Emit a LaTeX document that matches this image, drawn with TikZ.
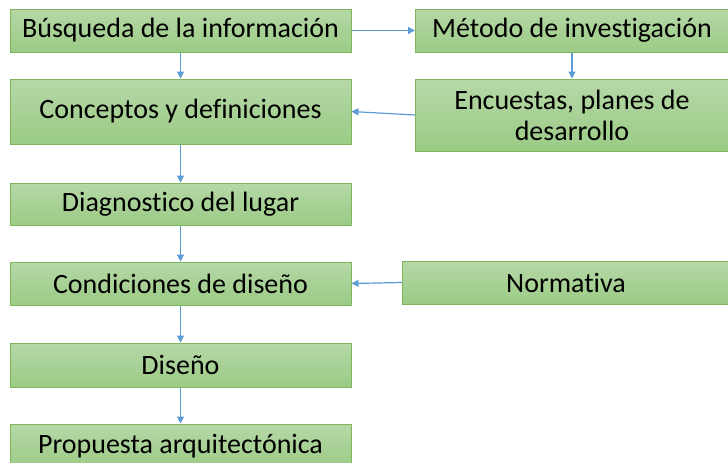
\documentclass[tikz,border=0pt]{standalone}
\usepackage{fontspec}
\setmainfont{Carlito}[Ligatures=NoCommon]
\usetikzlibrary{arrows.meta}
\definecolor{boxtop}{HTML}{B6D8A7}
\definecolor{boxbot}{HTML}{9BCB85}
\definecolor{boxline}{HTML}{7DB65C}
\definecolor{linkblue}{HTML}{5B9BD5}
\tikzset{
    >={Triangle[length=7pt,width=7pt]},
    box/.style={rectangle,draw=boxline,line width=1pt,top color=boxtop,bottom color=boxbot,inner sep=0pt,align=center,font=\fontsize{28}{31}\selectfont},
    every edge/.append style={draw=linkblue,line width=1.2pt}
}

\begin{document}
\begin{tikzpicture}[x=1pt,y=-1pt]
\useasboundingbox (0,0) rectangle (728,463);
\begin{scope}
\clip (0,0) rectangle (728,463);

           \node[box,minimum width=341pt,minimum height=43pt] (busq) at (180.5, 30.5) {Búsqueda de la información};
           \node[box,minimum width=341pt,minimum height=65pt] (conc) at (180.5, 111.5) {Conceptos y definiciones};
           \node[box,minimum width=341pt,minimum height=42pt] (diag) at (180.5, 204) {Diagnostico del lugar};
           \node[box,minimum width=341pt,minimum height=43pt] (cond) at (180.5, 283.5) {Condiciones de diseño};
           \node[box,minimum width=341pt,minimum height=44pt] (dise) at (180.5, 365) {Diseño};
           \node[box,minimum width=341pt,minimum height=44pt] (prop) at (180.5, 446) {Propuesta arquitectónica};

           \node[box,minimum width=313pt,minimum height=43pt] (meto) at (572, 30.5) {Método de investigación};
           \node[box,minimum width=313pt,minimum height=72pt] (encu) at (572, 115) {Encuestas, planes de\\desarrollo};
           \node[box,minimum width=327pt,minimum height=43pt] (norm) at (566, 282.5) {Normativa};

           \path (busq) edge[->] (conc)
                 (conc) edge[->] (diag)
                 (diag) edge[->] (cond)
                 (cond) edge[->] (dise)
                 (dise) edge[->] (prop);
           \path (busq.east) edge[->] (meto.west)
                 (meto) edge[->] (encu)
                 (encu.west) edge[->] (conc.east)
                 (norm.west) edge[->] (cond.east);
\end{scope}
\end{tikzpicture}
\end{document}
